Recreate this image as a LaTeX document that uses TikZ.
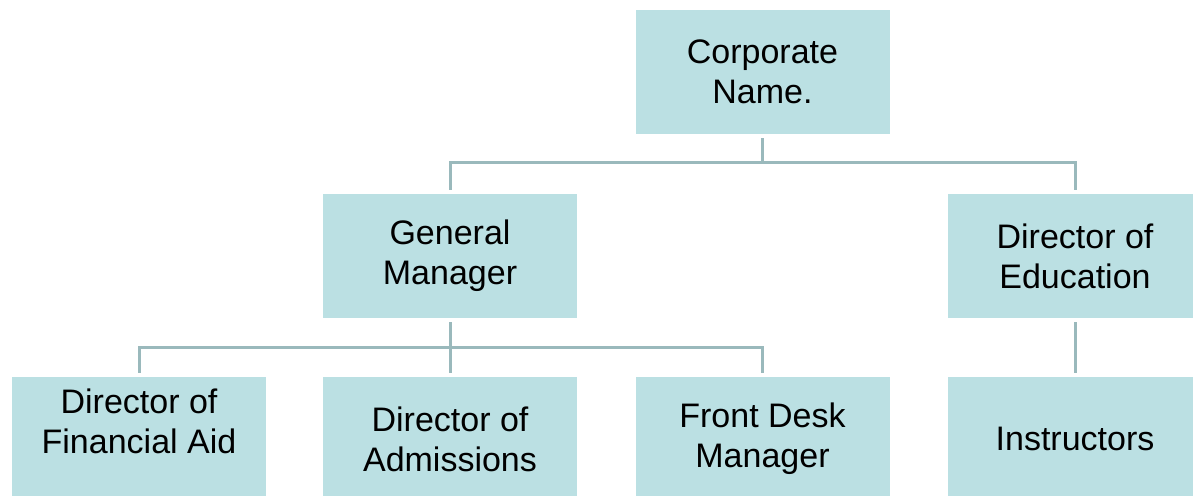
\documentclass[tikz,border=0pt]{standalone}
\usepackage{fontspec}
\setmainfont{Liberation Sans}
\definecolor{boxfill}{RGB}{187,224,227}
\definecolor{linkgray}{RGB}{154,185,188}
\begin{document}
\begin{tikzpicture}[x=0.5pt,y=0.5pt]
			\tikzset{unit/.style = {shape=rectangle,fill=boxfill,minimum width=127pt,minimum height=62pt,inner sep=0pt,align=center,font=\fontsize{17}{20}\selectfont}}
			\tikzset{link/.style = {draw=linkgray,line width=1.5pt}}
			\useasboundingbox (0,0) rectangle (1193,496);
			% Boxes
			\node[unit] (corp) at (762.5,424) {Corporate\\Name.};
			\node[unit] (gm) at (450,240) {General\\Manager};
			\node[unit] (doe) at (1075,240) {Director of\\Education};
			\node[unit, label={[font=\fontsize{17}{20}\selectfont,align=center,yshift=9pt]center:Director of\\Financial Aid}] (fa) at (139,57) {};
			\node[unit] (adm) at (450,57) {Director of\\Admissions};
			\node[unit] (fdm) at (762.5,57) {Front Desk\\Manager};
			\node[unit] (ins) at (1075,57) {Instructors};
			% Bars
			\coordinate (topbar) at (762.5,333);
			\coordinate (lowbar) at (450,148);
			\draw[link] ([yshift=-2pt]corp.south) -- (topbar);
			\draw[link] ([yshift=2pt]gm.north) |- (topbar) -| ([yshift=2pt]doe.north);
			\draw[link] ([yshift=-2pt]gm.south) -- ([yshift=2pt]adm.north);
			\draw[link] ([yshift=2pt]fa.north) |- (lowbar) -| ([yshift=2pt]fdm.north);
			\draw[link] ([yshift=-2pt]doe.south) -- ([yshift=2pt]ins.north);
		\end{tikzpicture}
\end{document}
